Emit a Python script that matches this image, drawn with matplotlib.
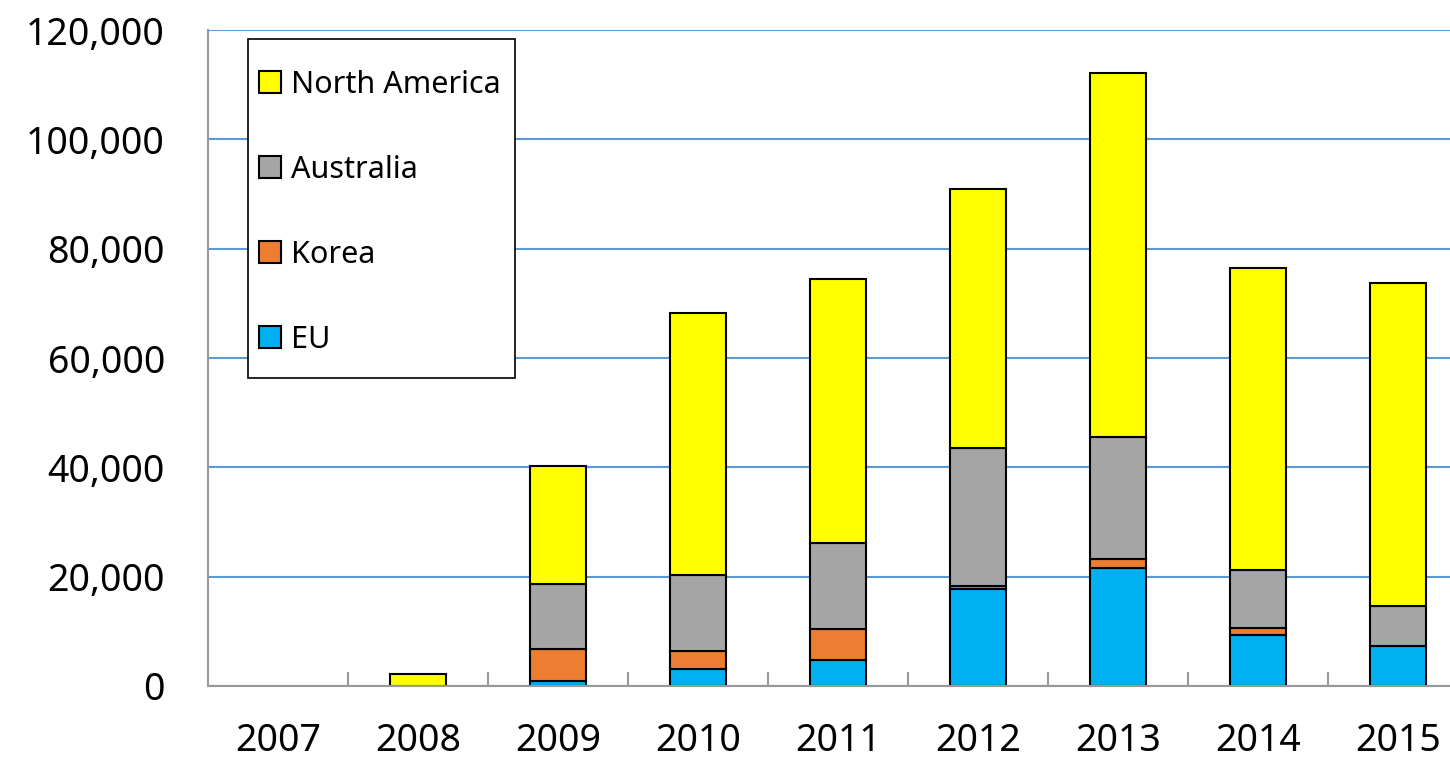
import matplotlib.pyplot as plt
from matplotlib.patches import Rectangle
import numpy as np

# данные по годам
years = ["2007", "2008", "2009", "2010", "2011", "2012", "2013", "2014", "2015"]
eu = [0, 0, 900, 3200, 4800, 17700, 21500, 9400, 7300]
korea = [0, 0, 5800, 3200, 5600, 600, 1700, 1300, 0]
australia = [0, 0, 12000, 13900, 15800, 25200, 22300, 10500, 7400]
north_america = [0, 2200, 21500, 47900, 48200, 47400, 66600, 55300, 59000]

series = [("EU", eu, "#00B0F0"),
          ("Korea", korea, "#ED7D31"),
          ("Australia", australia, "#A5A5A5"),
          ("North America", north_america, "#FFFF00")]

plt.rcParams['font.family'] = ['Noto Sans', 'DejaVu Sans']

W, H = 1450, 760
fig = plt.figure(figsize=(W / 100, H / 100), dpi=100)
ax = fig.add_axes([208 / W, 1 - 686 / H, 1 - 208 / W, (686 - 30) / H])

x = np.arange(len(years))
bottom = np.zeros(len(years))
handles = []
for name, vals, color in series:
    vals = np.array(vals, dtype=float)
    # нулевые сегменты не рисуем
    shown = np.where(vals > 0, vals, np.nan)
    b = ax.bar(x, shown, 0.4, bottom=bottom, color=color, edgecolor="black",
               linewidth=1.5, label=name, zorder=3)
    handles.append(b)
    bottom += vals

ax.set_ylim(0, 120000)
ax.set_yticks(range(0, 120001, 20000))
ax.set_yticklabels(["{:,}".format(v) for v in range(0, 120001, 20000)])
ax.yaxis.grid(True, color="#5B9BD5", linewidth=1.5, zorder=0)
ax.tick_params(axis="y", length=0, pad=31, labelsize=27)

# подписи категорий и штрихи между ними
ax.set_xticks(x)
ax.set_xticklabels(years)
ax.set_xticks(np.arange(len(years) - 1) + 0.5, minor=True)
ax.tick_params(axis="x", which="major", length=0, pad=26, labelsize=27)
ax.tick_params(axis="x", which="minor", direction="in", length=10,
               width=1.5, color="#999999")
ax.set_xlim(-0.5, -0.5 + (W - 208) / 140)

ax.spines["top"].set_visible(False)
ax.spines["right"].set_visible(False)
for s in ("left", "bottom"):
    ax.spines[s].set_color("#999999")
    ax.spines[s].set_linewidth(1.5)
    ax.spines[s].set_zorder(4)

# рамка легенды
ax.add_patch(Rectangle((248 / W, 1 - 378 / H), (515 - 248) / W, (378 - 39) / H,
                       transform=fig.transFigure, facecolor="white",
                       edgecolor="black", linewidth=1.2, zorder=5, clip_on=False))

leg = ax.legend(handles[::-1], [h.get_label() for h in handles[::-1]],
                loc="upper left", bbox_to_anchor=(259 / W, 1 - 70 / H),
                bbox_transform=fig.transFigure,
                fontsize=22, frameon=False, borderpad=0,
                labelspacing=1.8, handlelength=0.72, handleheight=0.72,
                handletextpad=0.33, borderaxespad=0)
leg.set_zorder(6)

fig.savefig("out.png", dpi=100)
